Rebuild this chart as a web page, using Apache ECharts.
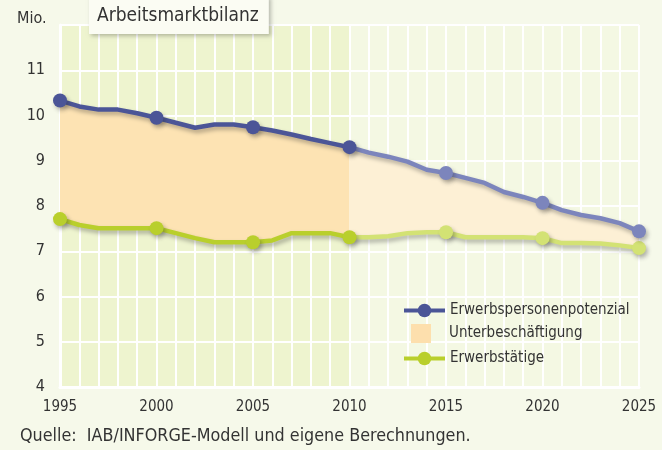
<!DOCTYPE html>
<html>
<head>
<meta charset="utf-8">
<script src="https://cdn.jsdelivr.net/npm/echarts@6/dist/echarts.min.js"></script>
<style>
html, body { margin: 0; padding: 0; background: #f6f9ea; }
#chart { width: 662px; height: 450px; }
</style>
</head>
<body>
<div id="chart"></div>
<script>
// Jahre (x-Achse)
var years = ['1995', '1996', '1997', '1998', '1999', '2000', '2001', '2002', '2003', '2004',
    '2005', '2006', '2007', '2008', '2009', '2010', '2011', '2012', '2013', '2014',
    '2015', '2016', '2017', '2018', '2019', '2020', '2021', '2022', '2023', '2024', '2025'];
// Erwerbspersonenpotenzial, Mio.
var potenzial = [10.33, 10.2, 10.13, 10.13, 10.05, 9.95, 9.84, 9.73, 9.8, 9.8,
    9.74, 9.67, 9.58, 9.48, 9.39, 9.3, 9.18, 9.09, 8.98, 8.8,
    8.73, 8.62, 8.51, 8.31, 8.2, 8.07, 7.91, 7.8, 7.73, 7.62, 7.44];
// Erwerbstätige, Mio.
var erwerbstaetige = [7.71, 7.58, 7.51, 7.51, 7.51, 7.51, 7.4, 7.29, 7.2, 7.2,
    7.2, 7.24, 7.4, 7.4, 7.4, 7.31, 7.31, 7.33, 7.4, 7.42,
    7.42, 7.31, 7.31, 7.31, 7.31, 7.29, 7.18, 7.18, 7.17, 7.13, 7.07];
// y-Achse
var yMin = 4, yMax = 12, yStep = 1;
var lastActual = 15; // Index von 2010, danach Projektion

// zweigeteilte Farbe: bis 2010 kräftig, danach heller
function split(c1, c2) {
    return {
        type: 'linear', x: 0, y: 0, x2: 1, y2: 0,
        colorStops: [
            { offset: 0, color: c1 }, { offset: 0.5, color: c1 },
            { offset: 0.5, color: c2 }, { offset: 1, color: c2 }
        ]
    };
}

function points(values, dark, light) {
    return values.map(function (v, i) {
        return {
            value: v,
            symbol: i % 5 === 0 ? 'circle' : 'none',
            itemStyle: { color: i > lastActual ? light : dark }
        };
    });
}

var blueDark = '#4b5597', blueLight = '#7c85bc';
var greenDark = '#b9cf2c', greenLight = '#d3e274';
var orangeDark = '#fde3b3', orangeLight = '#fdf0d5';
var textColor = '#333333';

var shadow = {
    shadowColor: 'rgba(40,40,40,0.35)',
    shadowBlur: 4,
    shadowOffsetX: 2,
    shadowOffsetY: 3
};

var myChart = echarts.init(document.getElementById('chart'));
var font = '"Liberation Sans Narrow", "DejaVu Sans Condensed", "Open Sans", sans-serif';

var option = {
    backgroundColor: '#f6f9ea',
    animation: false,
    textStyle: { fontFamily: font },
    title: {
        text: 'Arbeitsmarktbilanz',
        left: 89,
        top: -4,
        padding: [11, 10, 8, 8],
        backgroundColor: '#fbfcf3',
        shadowColor: 'rgba(0,0,0,0.25)',
        shadowBlur: 4,
        shadowOffsetX: 2,
        shadowOffsetY: 2,
        textStyle: { fontSize: 19, fontWeight: 'normal', color: textColor, fontFamily: font }
    },
    grid: {
        show: true,
        left: 60,
        right: 23,
        top: 25,
        bottom: 63,
        borderWidth: 0,
        backgroundColor: split('#eef4cf', '#f4f8e3')
    },
    legend: [{
        orient: 'vertical',
        left: 402,
        top: 303,
        padding: 0,
        itemWidth: 41,
        itemHeight: 17,
        itemGap: 33,
        textStyle: { fontSize: 15, color: textColor, fontFamily: font },
        data: [
            { name: 'Erwerbspersonenpotenzial',
              itemStyle: { color: blueDark }, lineStyle: { color: blueDark, width: 4 } },
            { name: 'Erwerbstätige',
              itemStyle: { color: greenDark }, lineStyle: { color: greenDark, width: 4 } }
        ]
    }, {
        orient: 'vertical',
        left: 411,
        top: 324,
        padding: 0,
        itemWidth: 20,
        itemHeight: 19,
        textStyle: { fontSize: 15, color: textColor, fontFamily: font, padding: [0, 0, 0, 13] },
        data: [
            { name: 'Unterbeschäftigung', icon: 'rect', itemStyle: { color: '#fddfad' } }
        ]
    }],
    xAxis: {
        type: 'category',
        data: years,
        boundaryGap: false,
        axisLine: { show: true, lineStyle: { color: '#ffffff', width: 3 } },
        axisTick: { show: false },
        axisLabel: { interval: 4, color: textColor, fontSize: 15, margin: 13 },
        splitLine: { show: true, interval: 0, lineStyle: { color: '#ffffff', width: 2 } }
    },
    yAxis: {
        type: 'value',
        min: yMin,
        max: yMax,
        interval: yStep,
        axisLine: { show: true, lineStyle: { color: '#ffffff', width: 3 } },
        axisTick: { show: false },
        axisLabel: { color: textColor, fontSize: 16, margin: 15, showMaxLabel: false },
        splitLine: { lineStyle: { color: '#ffffff', width: 2 } }
    },
    graphic: [{
        type: 'text',
        left: 17,
        top: 11,
        style: { text: 'Mio.', fontSize: 16, fill: textColor, fontFamily: font }
    }, {
        type: 'text',
        left: 20,
        top: 427,
        style: { text: 'Quelle:  IAB/INFORGE-Modell und eigene Berechnungen.', fontSize: 17.8, fill: textColor, fontFamily: font }
    }],
    series: [{
        name: 'Erwerbstätige',
        type: 'line',
        stack: 'bilanz',
        z: 4,
        symbol: 'circle',
        data: points(erwerbstaetige, greenDark, greenLight),
        symbolSize: 14,
        lineStyle: Object.assign({ width: 4.5, color: split(greenDark, greenLight) }, shadow),
        itemStyle: Object.assign({ color: greenDark }, shadow),
        emphasis: { disabled: true }
    }, {
        name: 'Unterbeschäftigung',
        type: 'line',
        stack: 'bilanz',
        z: 2,
        silent: true,
        symbol: 'none',
        data: potenzial.map(function (v, i) { return +(v - erwerbstaetige[i]).toFixed(2); }),
        lineStyle: { width: 0 },
        itemStyle: { color: '#fddfad' },
        areaStyle: { color: split(orangeDark, orangeLight), opacity: 1 },
        emphasis: { disabled: true }
    }, {
        name: 'Erwerbspersonenpotenzial',
        type: 'line',
        z: 5,
        symbol: 'circle',
        data: points(potenzial, blueDark, blueLight),
        symbolSize: 14,
        lineStyle: Object.assign({ width: 4.5, color: split(blueDark, blueLight) }, shadow),
        itemStyle: Object.assign({ color: blueDark }, shadow),
        emphasis: { disabled: true }
    }]
};
myChart.setOption(option);
</script>
</body>
</html>
